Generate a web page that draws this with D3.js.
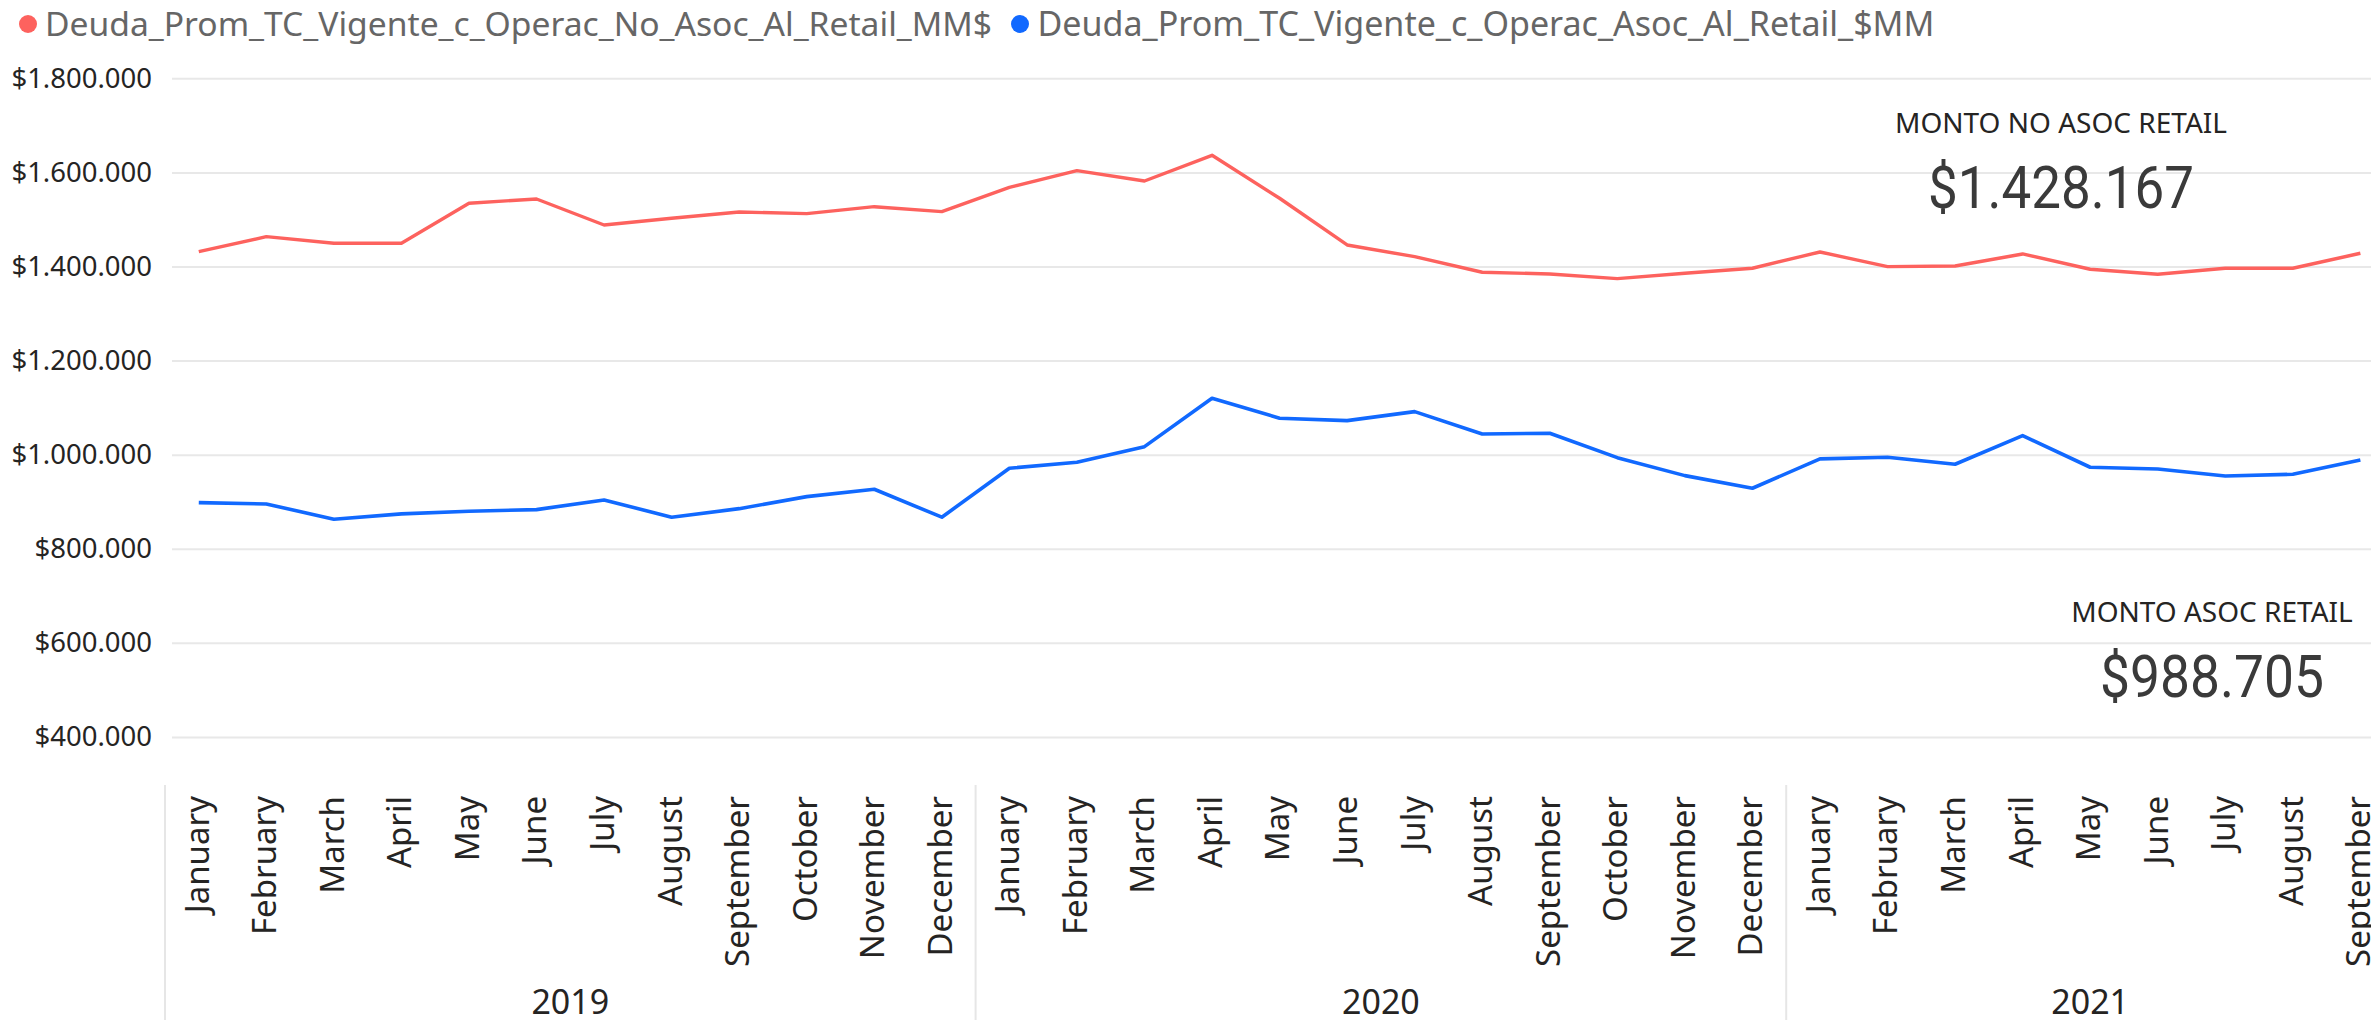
<!DOCTYPE html>
<html>
<head>
<meta charset="utf-8">
<script src="https://cdn.jsdelivr.net/npm/d3@7"></script>
<style>
  body { margin: 0; background: #fff; }
  svg { display: block; font-family: "Segoe UI", "Noto Sans", "Open Sans", sans-serif; }
</style>
</head>
<body>
<div id="chart"></div>
<script>
// --- data ---
const monthNames = ['January', 'February', 'March', 'April', 'May', 'June', 'July',
  'August', 'September', 'October', 'November', 'December']
const years = ['2019', '2020', '2021']
const months = [
  ...monthNames, ...monthNames, ...monthNames.slice(0, 9)
]

// Deuda_Prom_TC_Vigente_c_Operac_No_Asoc_Al_Retail_MM$
const noAsoc = [
  1431500, 1463400, 1449300, 1449300, 1534300, 1543500, 1488200, 1502500, 1515800, 1512300, 1527100, 1516500,
  1568300, 1603600, 1581700, 1636300, 1545000, 1445700, 1420800, 1387700, 1384100, 1374100, 1385600, 1396200,
  1430800, 1399600, 1401100, 1426600, 1394100, 1383400, 1396200, 1396200, 1428167
]
// Deuda_Prom_TC_Vigente_c_Operac_Asoc_Al_Retail_$MM
const asoc = [
  898000, 895200, 862700, 874000, 879700, 883100, 903700, 867000, 885200, 910800, 926500, 867000,
  971100, 983800, 1017000, 1119900, 1077400, 1072300, 1091400, 1044000, 1045500, 993600, 955400, 928600,
  990900, 994500, 979600, 1040400, 973200, 969600, 954700, 958300, 988705
]

const seriesNames = [
  'Deuda_Prom_TC_Vigente_c_Operac_No_Asoc_Al_Retail_MM$',
  'Deuda_Prom_TC_Vigente_c_Operac_Asoc_Al_Retail_$MM'
]
const yTicks = [400000, 600000, 800000, 1000000, 1200000, 1400000, 1600000, 1800000]
const kpiTitles = ['MONTO NO ASOC RETAIL', 'MONTO ASOC RETAIL']
const kpiValues = [1428167, 988705]

const red = '#FD625E'
const blue = '#1169FF'

const width = 2371
const height = 1020

const svg = d3.select('#chart')
  .append('svg')
  .attr('width', width)
  .attr('height', height)

// Scales
const x = d3.scaleBand()
  .domain(d3.range(months.length))
  .range([165, 165 + months.length * 67.55])
  .padding(0)

const y = d3.scaleLinear()
  .domain([400000, 1800000])
  .range([736.9, 78.3])

const locale = d3.formatLocale({ decimal: ',', thousands: '.', grouping: [3], currency: ['$', ''] })
const money = locale.format('$,.0f')

// Y axis with gridlines
const yAxis = svg.append('g')
  .attr('transform', 'translate(172,0)')
  .call(d3.axisLeft(y)
    .tickValues(yTicks)
    .tickSize(-(width - 172))
    .tickPadding(20)
    .tickFormat(money))
  .attr('font-family', null)
  .attr('font-size', null)

yAxis.select('.domain').remove()
yAxis.selectAll('.tick line')
  .attr('stroke', '#e8e8e8')
  .attr('stroke-width', 2)
yAxis.selectAll('.tick text')
  .attr('fill', '#252423')
  .attr('font-size', '27.5px')

// X axis - months
const xAxis = svg.append('g')
  .attr('transform', 'translate(0,796)')
  .call(d3.axisBottom(x)
    .tickSize(0)
    .tickFormat(i => months[i]))
  .attr('font-family', null)
  .attr('font-size', null)

xAxis.select('.domain').remove()
xAxis.selectAll('.tick text')
  .attr('x', 0)
  .attr('y', 0)
  .attr('dy', '0.3em')
  .attr('transform', 'rotate(-90)')
  .attr('text-anchor', 'end')
  .attr('fill', '#252423')
  .attr('font-size', '33px')

// Year groups
years.forEach((yr, k) => {
  const first = k * 12
  const last = Math.min(first + 11, months.length - 1)
  const x0 = x(first)
  const x1 = x(last) + x.bandwidth()

  svg.append('line')
    .attr('x1', x0)
    .attr('x2', x0)
    .attr('y1', 785)
    .attr('y2', height)
    .attr('stroke', '#e6e6e6')
    .attr('stroke-width', 2)

  svg.append('text')
    .attr('x', (x0 + x1) / 2)
    .attr('y', 1014)
    .attr('text-anchor', 'middle')
    .attr('fill', '#252423')
    .attr('font-size', '34px')
    .text(yr)
})

// Lines
const line = d3.line()
  .x((d, i) => x(i) + x.bandwidth() / 2)
  .y(d => y(d))

svg.append('path')
  .datum(noAsoc)
  .attr('fill', 'none')
  .attr('stroke', red)
  .attr('stroke-width', 3.4)
  .attr('stroke-linejoin', 'round')
  .attr('d', line)

svg.append('path')
  .datum(asoc)
  .attr('fill', 'none')
  .attr('stroke', blue)
  .attr('stroke-width', 3.6)
  .attr('stroke-linejoin', 'round')
  .attr('d', line)

// Legend
const legendItems = [
  { name: seriesNames[0], color: red, cx: 28, tx: 45, w: 947 },
  { name: seriesNames[1], color: blue, cx: 1020, tx: 1037.5, w: 897 }
]
legendItems.forEach(item => {
  svg.append('circle')
    .attr('cx', item.cx)
    .attr('cy', 24)
    .attr('r', 9)
    .attr('fill', item.color)

  const t = svg.append('text')
    .attr('x', item.tx)
    .attr('y', 36)
    .attr('fill', '#666666')
    .attr('font-size', '30px')
    .text(item.name)
  // fit to the reference width
  const len = t.node().getComputedTextLength()
  t.attr('font-size', (30 * item.w / len).toFixed(2) + 'px')
})

// KPI cards
const kpiPos = [
  { cx: 2061, ty: 133, vy: 208, vw: 266 },
  { cx: 2212, ty: 621.5, vy: 697, vw: 224 }
]
kpiTitles.forEach((title, k) => {
  const p = kpiPos[k]
  svg.append('text')
    .attr('x', p.cx)
    .attr('y', p.ty)
    .attr('text-anchor', 'middle')
    .attr('fill', '#252423')
    .attr('font-size', '28px')
    .text(title)

  svg.append('text')
    .attr('x', p.cx)
    .attr('y', p.vy)
    .attr('text-anchor', 'middle')
    .attr('fill', '#3a3a3a')
    .attr('font-family', '"DIN", "Roboto", sans-serif')
    .attr('font-size', '59px')
    .attr('textLength', p.vw)
    .attr('lengthAdjust', 'spacingAndGlyphs')
    .text(money(kpiValues[k]))
})
</script>
</body>
</html>
